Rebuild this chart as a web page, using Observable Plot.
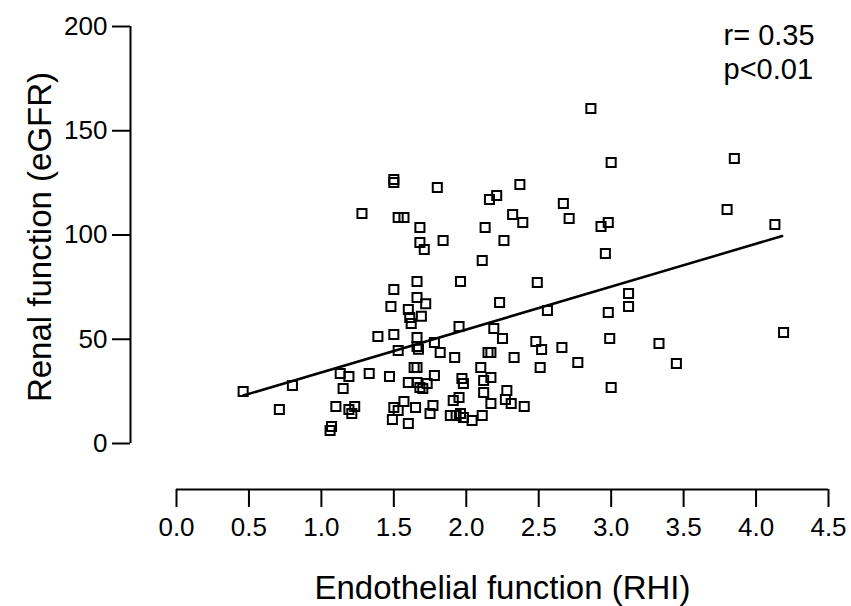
<!DOCTYPE html>
<html>
<head>
<meta charset="utf-8">
<script src="https://cdn.jsdelivr.net/npm/d3@7"></script>
<script src="https://cdn.jsdelivr.net/npm/@observablehq/plot@0.6"></script>
<style>
  html, body { margin: 0; padding: 0; background: #fff; }
  #chart { width: 851px; height: 606px; }
  svg { font-family: "Liberation Sans", Arial, sans-serif; color: #000; }
</style>
</head>
<body>
<div id="chart"></div>
<script>
// Endothelial function (RHI)
const rhi = [
  0.46, 0.71, 0.80, 1.07, 1.06, 1.10, 1.13, 1.15, 1.19, 1.19, 1.21, 1.23,
  1.28, 1.33, 1.39, 1.50, 1.47, 1.48, 1.50, 1.50, 1.50, 1.49, 1.53, 1.53,
  1.57, 1.50, 1.53, 1.57, 1.60, 1.61, 1.62, 1.60, 1.64, 1.66, 1.60, 1.65,
  1.66, 1.66, 1.67, 1.66, 1.66, 1.72, 1.69, 1.68, 1.71, 1.68, 1.68, 1.70,
  1.73, 1.66, 1.78, 1.77, 1.75, 1.78, 1.82, 1.80, 1.84, 1.92, 1.95, 1.96,
  1.91, 1.95, 1.89, 1.93, 1.96, 1.98, 1.97, 1.98, 2.04, 2.11, 2.10, 2.12,
  2.17, 2.12, 2.17, 2.15, 2.17, 2.11, 2.13, 2.16, 2.21, 2.19, 2.25, 2.23,
  2.26, 2.28, 2.27, 2.31, 2.32, 2.39, 2.33, 2.37, 2.40, 2.48, 2.52, 2.49,
  2.51, 2.56, 2.66, 2.67, 2.71, 2.77, 2.86, 2.93, 2.96, 2.98, 2.98, 3.00,
  2.99, 3.00, 3.12, 3.12, 3.33, 3.45, 3.80, 3.85, 4.13, 4.19
];
// Renal function (eGFR)
const egfr = [
  24.9, 16.3, 27.8, 8.2, 6.2, 17.7, 33.6, 26.4, 32.1, 16.3, 14.4, 17.7,
  110.3, 33.6, 51.3, 52.3, 32.1, 65.7, 73.9, 126.6, 125.2, 11.5, 44.6, 108.4,
  108.4, 17.3, 15.8, 20.1, 64.3, 60.4, 57.6, 9.6, 36.5, 36.5, 29.3, 17.3,
  50.8, 46.5, 45.2, 77.7, 70.0, 67.0, 61.0, 96.4, 93.0, 103.6, 26.9, 26.4,
  28.8, 29.3, 32.6, 18.2, 14.4, 48.4, 43.6, 122.8, 97.4, 41.2, 56.1, 77.7,
  20.6, 22.1, 13.4, 13.4, 14.4, 12.5, 31.2, 28.8, 11.0, 13.4, 36.5, 30.2,
  31.7, 24.5, 19.2, 43.6, 43.6, 87.8, 103.6, 117.0, 118.9, 55.2, 50.4, 67.6,
  97.4, 25.4, 21.1, 19.2, 109.8, 106.0, 41.2, 124.2, 17.7, 48.9, 45.1, 77.2,
  36.5, 63.8, 46.0, 115.1, 107.9, 38.8, 160.7, 104.1, 91.1, 62.8, 106.0, 134.8,
  50.4, 26.9, 71.9, 65.7, 48.0, 38.4, 112.2, 136.7, 105.0, 53.2
];
// Regression line end points
const fitX = [0.46, 4.18];
const fitY = [23, 99.5];

const xTicks = [0, 0.5, 1, 1.5, 2, 2.5, 3, 3.5, 4, 4.5];
const yTicks = [0, 50, 100, 150, 200];
const statLines = ["r= 0.35", "p<0.01"];
const xTitle = "Endothelial function (RHI)";
const yTitle = "Renal function (eGFR)";

const points = rhi.map((x, i) => ({x, y: egfr[i]}));
const fit = fitX.map((x, i) => ({x, y: fitY[i]}));

const chart = Plot.plot({
  width: 851,
  height: 606,
  marginLeft: 176,
  marginRight: 23,
  marginTop: 26,
  marginBottom: 163,
  style: {fontFamily: '"Liberation Sans", Arial, sans-serif', color: "#000", background: "#fff"},
  x: {domain: [0, 4.5]},
  y: {domain: [0, 200]},
  marks: [
    // y axis
    Plot.ruleX([0], {dx: -46, stroke: "#000", strokeWidth: 2}),
    Plot.axisY({ticks: yTicks, tickSize: 18, tickPadding: 5, dx: -46, fontSize: 26,
      strokeWidth: 2, label: null, tickFormat: d3.format("d")}),
    // x axis
    Plot.ruleY([0], {dy: 46, stroke: "#000", strokeWidth: 2}),
    Plot.axisX({ticks: xTicks, tickSize: 18, tickPadding: 10, dy: 46, fontSize: 26,
      strokeWidth: 2, label: null, tickFormat: d3.format(".1f")}),
    // data
    Plot.dot(points, {x: "x", y: "y", symbol: "square", r: 5.1, stroke: "#000", strokeWidth: 2, fill: "none"}),
    Plot.line(fit, {x: "x", y: "y", stroke: "#000", strokeWidth: 2.5}),
    // stats
    Plot.text([statLines[0]], {frameAnchor: "top-right", textAnchor: "start", lineAnchor: "middle",
      dx: -105, dy: 9, fontSize: 29, fill: "#000"}),
    Plot.text([statLines[1]], {frameAnchor: "top-right", textAnchor: "start", lineAnchor: "middle",
      dx: -105, dy: 43, fontSize: 29, fill: "#000"}),
    // titles
    Plot.text([xTitle], {frameAnchor: "bottom", textAnchor: "middle", lineAnchor: "middle", dy: 145, fontSize: 33, fill: "#000"}),
    Plot.text([yTitle], {frameAnchor: "left", textAnchor: "middle", lineAnchor: "middle", rotate: -90, dx: -136, dy: 2, fontSize: 33, fill: "#000"})
  ]
});
document.getElementById("chart").appendChild(chart);
</script>
</body>
</html>
